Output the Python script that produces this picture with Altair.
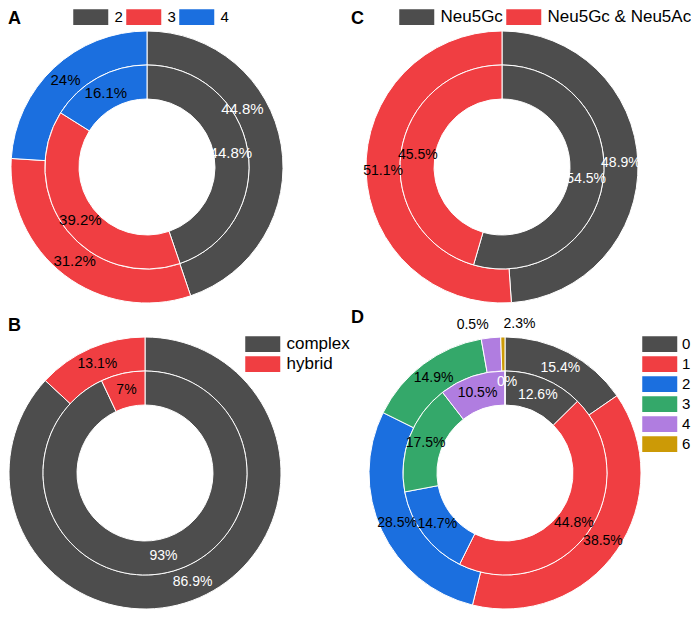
import altair as alt
import pandas as pd

FONT = "Liberation Sans, Arial, Helvetica, sans-serif"
PALETTE = ["#4d4d4d", "#f03e42", "#1b6fdf", "#34a86a", "#b07de0", "#cc9a06"]

# ---- data ----
a_cats = ["2", "3", "4"]
a_outer = [44.8, 31.2, 24]
a_inner = [44.8, 39.2, 16.1]

b_cats = ["complex", "hybrid"]
b_outer = [86.9, 13.1]
b_inner = [93, 7]

c_cats = ["Neu5Gc", "Neu5Gc & Neu5Ac"]
c_outer = [48.9, 51.1]
c_inner = [54.5, 45.5]

d_cats = ["0", "1", "2", "3", "4", "6"]
d_outer = [15.4, 38.5, 28.5, 14.9, 2.3, 0.5]
d_inner = [12.6, 44.8, 14.7, 17.5, 10.5, 0]

SYM = "M-1,-0.9H3V0.9H-1Z"
R_OUT, R_MID, R_IN = 136, 102, 68
LR_OUT, LR_IN = 119, 85


def make_legend(cats, x, y, horizontal, fsize, offset=23.5):
    kw = dict(
        orient="none", legendX=x, legendY=y, title=None,
        direction="horizontal" if horizontal else "vertical",
        symbolType=SYM, symbolSize=306.25, symbolStrokeWidth=0, symbolOpacity=1,
        labelFontSize=fsize, labelFont=FONT, labelColor="black",
        labelOffset=offset, columnPadding=3, rowPadding=3,
    )
    if horizontal:
        kw["columns"] = len(cats)
    return alt.Legend(**kw)


def ring(cats, vals, cx, cy, r1, r2, lr, fsize, legend, specials=()):
    df = pd.DataFrame({"cat": cats, "value": vals, "ord": list(range(len(cats)))})
    base = (
        alt.Chart(df)
        .transform_window(cum="sum(value)", sort=[alt.SortField("ord")])
        .transform_joinaggregate(total="sum(value)")
        .transform_calculate(
            start="(datum.cum - datum.value) / datum.total",
            end="datum.cum / datum.total",
            mid="(datum.cum - datum.value / 2) / datum.total",
            label="datum.value + '%'",
        )
    )
    arc = base.mark_arc(radius=r1, radius2=r2, stroke="white", strokeWidth=1).encode(
        x=alt.value(cx), y=alt.value(cy),
        theta=alt.Theta("start:Q", scale=alt.Scale(domain=[0, 1])),
        theta2="end:Q",
        color=alt.Color("cat:N", scale=alt.Scale(domain=cats, range=PALETTE[:len(cats)]),
                        legend=legend),
    )
    tcolor = alt.condition("datum.ord == 0 || datum.value == 0",
                           alt.value("white"), alt.value("black"))
    enc = dict(
        x=alt.value(cx), y=alt.value(cy),
        theta=alt.Theta("mid:Q", scale=alt.Scale(domain=[0, 1])),
        text="label:N", color=tcolor,
    )
    txt_base = base
    if specials:
        ords = [s[0] for s in specials]
        txt_base = base.transform_filter(f"indexof({ords}, datum.ord) < 0")
    texts = [txt_base.mark_text(radius=lr, fontSize=fsize, font=FONT,
                                align="center", baseline="middle").encode(**enc)]
    for (o, rr, dx, dy) in specials:
        texts.append(
            base.transform_filter(f"datum.ord == {o}")
            .mark_text(radius=rr, dx=dx, dy=dy, fontSize=fsize, font=FONT,
                       align="center", baseline="middle")
            .encode(**enc)
        )
    return arc, texts


def panel(cats, outer, inner, cx, cy, fsize, legend, sp_out=(), sp_in=()):
    a1, t1 = ring(cats, outer, cx, cy, R_OUT, R_MID, LR_OUT, fsize, legend, sp_out)
    a2, t2 = ring(cats, inner, cx, cy, R_MID, R_IN, LR_IN, fsize, legend, sp_in)
    return alt.layer(a1, a2, *t1, *t2)


pA = panel(a_cats, a_outer, a_inner, 139, 159, 15,
           make_legend(a_cats, 65, 0, True, 15),
           sp_out=[(0, LR_OUT, -22, -39)])
pB = panel(b_cats, b_outer, b_inner, 137, 465, 14,
           make_legend(b_cats, 237, 327, False, 17))
pC = panel(c_cats, c_outer, c_inner, 494, 159, 14,
           make_legend(c_cats, 391, 0, True, 17))
pD = panel(d_cats, d_outer, d_inner, 497, 465, 14,
           make_legend(d_cats, 634, 327, False, 15, offset=22),
           sp_out=[(4, 150, 30, 0), (5, 150, -30, 2)],
           sp_in=[(5, LR_IN, 2, -6)])


def letter(t, x, y):
    return alt.Chart(pd.DataFrame({"t": [t]})).mark_text(
        font=FONT, fontSize=18, fontWeight="bold", align="left",
        baseline="alphabetic", color="black"
    ).encode(text="t:N", x=alt.value(x), y=alt.value(y))


chart = (
    alt.layer(pA, pB, pC, pD,
              letter("A", 0, 16), letter("B", 0, 323),
              letter("C", 343, 16), letter("D", 343, 315))
    .resolve_scale(color="independent")
    .properties(width=683, height=602, padding=0,
                autosize=alt.AutoSizeParams(type="none"))
    .configure_view(stroke=None)
)

chart.save("out.html", embed_options={"renderer": "svg", "actions": False})
